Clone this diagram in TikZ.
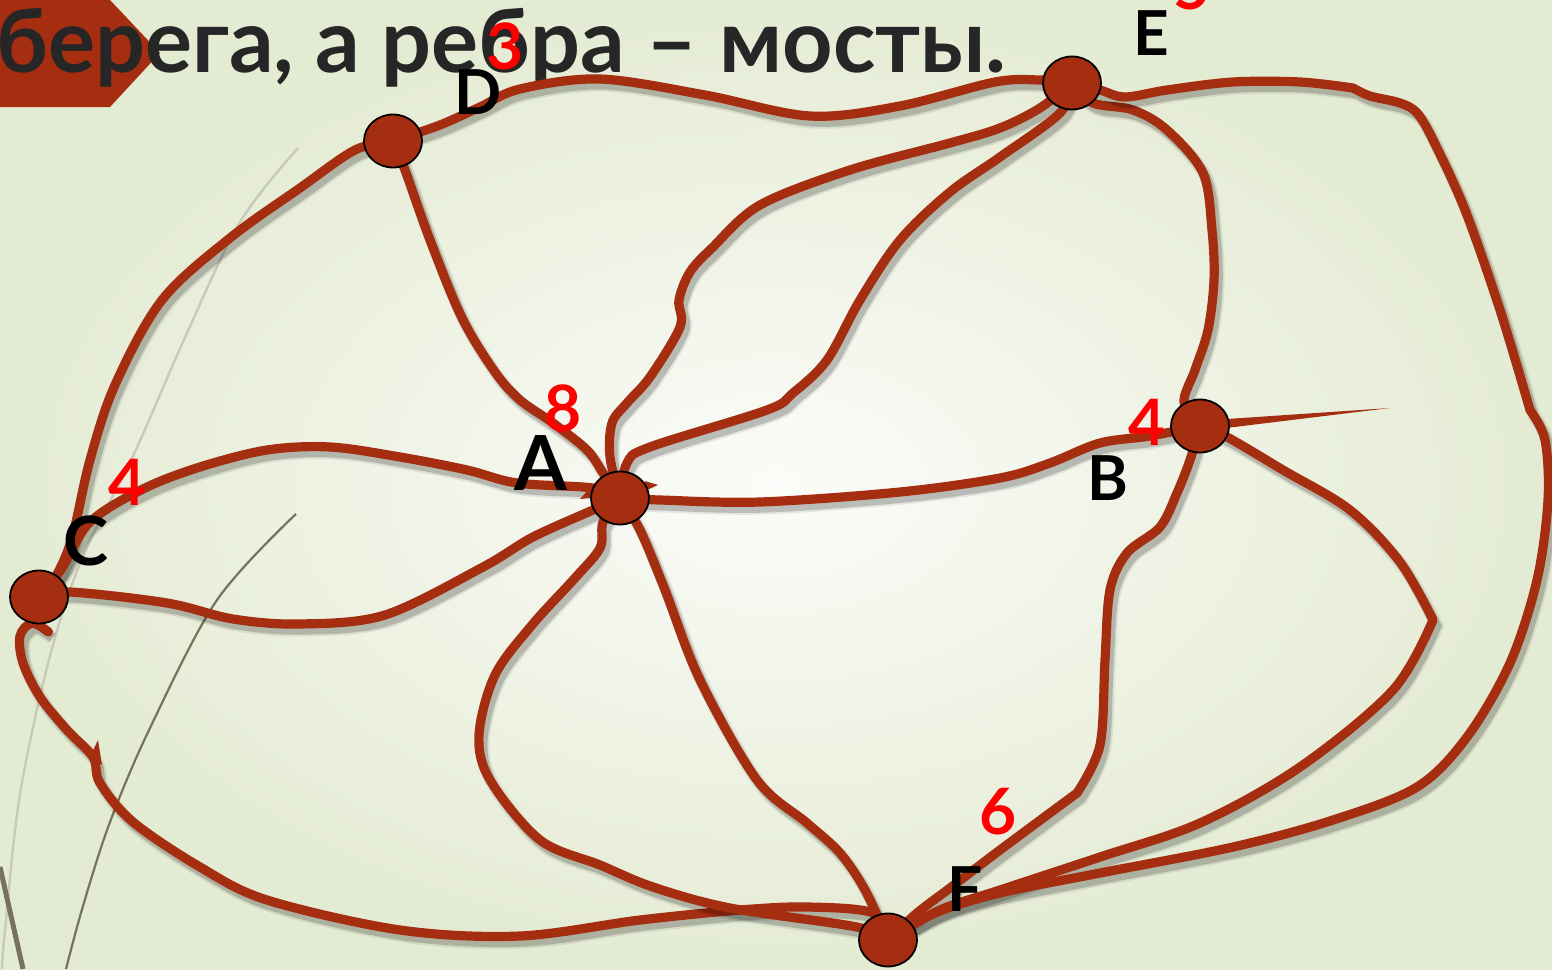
\documentclass[tikz,border=0pt]{standalone}
\usepackage{fontspec}
\setmainfont{Lato}
\usetikzlibrary{shapes.geometric,calc}
\definecolor{edgecol}{RGB}{165,46,17}
\definecolor{titlecol}{RGB}{38,38,38}
\definecolor{bgout}{RGB}{228,235,211}
\definecolor{bgin}{RGB}{251,252,249}
\definecolor{decodark}{RGB}{120,114,92}
\definecolor{decolight}{RGB}{200,201,184}
\pgfdeclarelayer{back}
\pgfdeclarelayer{edgelayer}
\pgfsetlayers{back,edgelayer,main}
\begin{document}
\begin{tikzpicture}[x=0.5pt,y=-0.5pt,
 vert/.style={ellipse, draw=black, line width=0.9pt, fill=edgecol, minimum width=29pt, minimum height=26.5pt, inner sep=0pt},
 bridge/.style={draw=edgecol, line width=4.6pt, line cap=round, line join=round,
   preaction={draw=black, draw opacity=0.08, line width=6.5pt, transform canvas={xshift=2pt,yshift=-3pt}},
   preaction={draw=black, draw opacity=0.18, line width=4.6pt, transform canvas={xshift=2pt,yshift=-3pt}}},
 spike/.style={fill=edgecol},
 lbl/.style={inner sep=0pt, font=\fontsize{31}{31}\selectfont\bfseries},
 num/.style={inner sep=0pt, text=red, font=\fontsize{32}{32}\selectfont\bfseries},
 sm/.style={smooth, tension=0.55},
]
\useasboundingbox (0,0) rectangle (1552,969);

% ---------- background ----------
\begin{pgfonlayer}{back}
\shade[inner color=bgin, outer color=bgout] (0,0) rectangle (1552,969);
\draw[decolight, line width=1.2pt] plot[sm] coordinates {(298,148) (240,222) (187,333) (133,456) (83,556) (50,656) (20,794) (5,930) (2,969)};
\draw[decodark, line width=1.1pt] plot[sm] coordinates {(296,514) (217,600) (150,728) (110,822) (83,906) (66,969)};
\draw[decodark, line width=2.5pt] (0,867) -- (23,969);
\fill[edgecol] (0,0) -- (110,0) -- (160,53) -- (110,107) -- (0,107) -- cycle;
\node[anchor=base west, inner sep=0pt, text=titlecol, font=\fontsize{44}{44}\selectfont\bfseries] (title) at (-4,72) {берега, а ребра – мосты.};
\end{pgfonlayer}

% ---------- vertices ----------
\node[vert] (D) at (393,141) {};
\node[vert] (E) at (1072,83) {};
\node[vert] (A) at (620,498) {};
\node[vert] (B) at (1200,426) {};
\node[vert] (C) at (39,597) {};
\node[vert] (F) at (888,940) {};

% ---------- bridges ----------
\begin{pgfonlayer}{edgelayer}
% D - E
\draw[bridge] plot[sm] coordinates {(D.center) (440,125) (480,107) (520,89) (600,79) (705,95) (810,116) (900,106) (995,82) (1040,80) (E.center)};
% D - C
\draw[bridge] plot[sm] coordinates {(D.center) (355,150) (300,188) (230,238) (162,300) (115,385) (90,460) (72,538) (55,578) (C.center)};
% D - A
\draw[bridge] plot[sm] coordinates {(D.center) (405,170) (430,240) (462,318) (495,372) (520,400) (553,423) (587,450) (603,473) (A.center)};
% C - A upper
\draw[bridge] plot[sm] coordinates {(C.center) (62,568) (90,522) (143,489) (200,467) (267,450) (330,447) (400,457) (467,470) (517,483) (593,488) (A.center)};
% C - A lower
\draw[bridge] plot[sm] coordinates {(C.center) (70,592) (167,603) (233,619) (300,624) (385,615) (483,567) (533,537) (593,510) (A.center)};
% C - F (hook)
\draw[bridge] plot[sm] coordinates {([yshift=-4.5pt]C.-70) (32,623) (20,636) (23,663) (40,697) (67,730) (93,757) (100,783) (133,822) (200,867) (267,900) (400,930) (520,936) (640,920) (740,910) (807,907) (873,913) (F.center)};
% A - F left loop
\draw[bridge] plot[sm] coordinates {(A.center) (603,522) (600,548) (575,578) (532,625) (495,675) (479,735) (490,780) (540,840) (600,865) (653,887) (730,908) (857,927) (F.center)};
% A - F direct
\draw[bridge] plot[sm] coordinates {(A.center) (640,530) (665,590) (700,680) (757,780) (807,823) (840,853) (865,890) (F.center)};
% A - E (a)
\draw[bridge] plot[sm] coordinates {(A.center) (610,457) (612,423) (627,403) (650,377) (680,327) (679,300) (690,272) (712,248) (760,205) (850,170) (950,143) (1000,128) (1040,108) (E.center)};
% A - E (b)
\draw[bridge] plot[sm] coordinates {(A.center) (627,463) (650,447) (767,410) (793,393) (827,360) (860,300) (900,240) (950,192) (1000,157) (1060,113) (E.center)};
% A - B
\draw[bridge] plot[sm] coordinates {(A.center) (660,500) (760,502) (900,492) (1000,478) (1050,463) (1100,443) (1150,436) (B.center)};
% E - B
\draw[bridge] plot[sm] coordinates {(E.center) (1093,103) (1133,110) (1167,130) (1203,173) (1212,230) (1214,280) (1208,330) (1195,370) (1184,402) (B.center)};
% B - F middle
\draw[bridge] plot[sm] coordinates {(B.center) (1190,460) (1177,493) (1160,527) (1127,553) (1110,590) (1105,660) (1100,745) (1077,793)} -- plot[sm] coordinates {(1077,793) (1000,850) (950,888) (917,913) (F.center)};
% B - F outer
\draw[bridge] plot[sm] coordinates {(B.center) (1227,437) (1283,470) (1350,510) (1400,562) (1433,620)} -- plot[sm] coordinates {(1433,620) (1393,690) (1300,767) (1200,823) (1100,857) (1000,890) (940,910) (F.center)};
% E - F outer
\draw[bridge] plot[sm] coordinates {(E.center) (1100,90) (1125,97) (1167,90) (1233,82) (1300,82) (1353,88)} -- plot[sm] coordinates {(1353,88) (1370,96) (1400,103) (1417,113) (1433,140) (1465,210) (1500,310) (1530,410)} -- plot[sm] coordinates {(1530,410) (1545,440) (1548,500) (1537,580) (1510,663) (1467,737) (1417,787) (1333,820) (1233,847) (1100,873) (1000,893) (935,913) (F.center)};
% spikes
\fill[spike] ([yshift=2.6pt]B.center) -- (1390,408) -- ([yshift=-2.6pt]B.center) -- cycle;
\fill[spike] (590,488) -- (580,499) -- (598,497) -- cycle;
\fill[spike] (645,481) -- (658,485) -- (645,491) -- cycle;
\fill[spike] (90,757) -- (98,740) -- (102,765) -- cycle;
\end{pgfonlayer}

% ---------- labels ----------
\node[lbl] (lD) at (478,92) {D};
\node[num] (nD) at (505,46) {3};
\node[lbl] (lE) at (1151,33) {E};
\node[num] (nE) at (1192,-13) {5};
\node[lbl, font=\fontsize{38}{38}\selectfont\bfseries] (lA) at (541,463) {A};
\node[num] (nA) at (563,408) {8};
\node[lbl] (lB) at (1108,478) {B};
\node[num] (nB) at (1147,422) {4};
\node[lbl, font=\fontsize{34}{34}\selectfont\bfseries] (lC) at (86,541) {C};
\node[num] (nC) at (127,482) {4};
\node[lbl] (lF) at (965,889) {F};
\node[num] (nF) at (998,812) {6};
\end{tikzpicture}
\end{document}
